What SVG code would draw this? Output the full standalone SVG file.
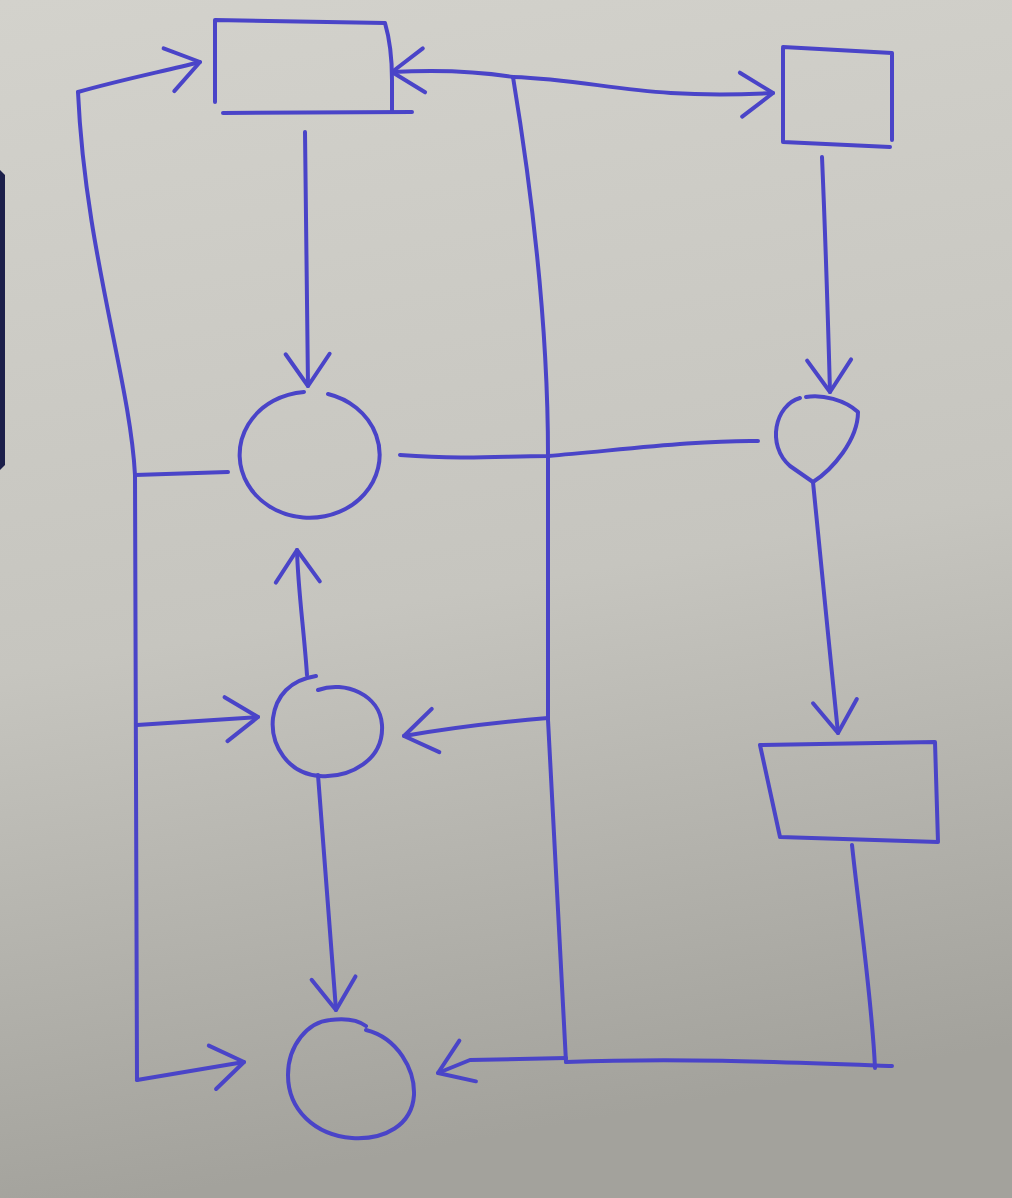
<svg xmlns="http://www.w3.org/2000/svg" width="1012" height="1198" viewBox="0 0 1012 1198">
  <defs>
    <linearGradient id="paper" x1="0" y1="0" x2="0.15" y2="1">
      <stop offset="0" stop-color="#d3d2cc"/>
      <stop offset="0.55" stop-color="#c6c5bf"/>
      <stop offset="1" stop-color="#a3a29c"/>
    </linearGradient>
    <marker id="head" viewBox="-36 -26 40 52" markerWidth="40" markerHeight="52" refX="0" refY="0" markerUnits="userSpaceOnUse" orient="auto">
      <path d="M -32 -22 L 0 0 L -32 22" fill="none" stroke="#4a44c8" stroke-width="4" stroke-linecap="round" stroke-linejoin="round"/>
    </marker>
  </defs>
  <style>
    .ink { fill: none; stroke: #4a44c8; stroke-width: 4; stroke-linecap: round; stroke-linejoin: round; }
    .arrow { marker-end: url(#head); }
  </style>
  <rect x="0" y="0" width="1012" height="1198" fill="url(#paper)"/>
  <path d="M0 170 L5 175 L5 465 L0 470 Z" fill="#1c1f4a"/>

  <g id="connectors">
    <path class="ink arrow" d="M78 92 C 120 80, 160 72, 200 62"/>
    <path class="ink" d="M78 92 C 85 250, 130 380, 135 475 L 137 1080"/>
    <path class="ink arrow" d="M137 1080 L 244 1062"/>
    <path class="ink" d="M135 475 L 228 472"/>
    <path class="ink arrow" d="M137 725 L 258 717"/>
    <path class="ink arrow" d="M305 132 L 308 386"/>
    <path class="ink arrow" d="M513 77 C 470 70, 430 70, 392 72"/>
    <path class="ink arrow" d="M513 77 C 600 80, 640 100, 773 93"/>
    <path class="ink" d="M513 77 C 525 150, 548 300, 548 455 L 548 720 L 566 1062"/>
    <path class="ink" d="M400 455 C 470 460, 500 456, 548 456 C 620 450, 700 440, 758 441"/>
    <path class="ink arrow" d="M548 718 C 500 722, 450 728, 404 736"/>
    <path class="ink arrow" d="M307 675 C 304 630, 298 590, 297 550"/>
    <path class="ink arrow" d="M318 775 L 336 1010"/>
    <path class="ink arrow" d="M822 157 C 826 250, 828 320, 830 392"/>
    <path class="ink arrow" d="M813 482 C 820 560, 830 650, 838 733"/>
    <path class="ink" d="M852 845 C 860 920, 872 1000, 875 1068"/>
    <path class="ink" d="M566 1062 C 680 1058, 780 1062, 892 1066"/>
    <path class="ink arrow" d="M566 1058 L 470 1060 L 438 1073"/>
  </g>

  <g id="rect-top">
    <path class="ink" d="M215 102 L 215 20 L 385 23 C 390 40, 392 60, 392 80 L 392 112"/>
    <path class="ink" d="M223 113 L 412 112"/>
  </g>
  <g id="square-top-right">
    <path class="ink" d="M783 48 L 783 142 L 890 147 M 783 47 L 892 53 L 892 140"/>
  </g>
  <g id="circle-a">
    <path class="ink" d="M328 394 A 70 63 0 1 1 304 392"/>
  </g>
  <g id="circle-b">
    <path class="ink" d="M800 398 C 775 405, 766 445, 790 466 L 813 482 C 832 470, 858 440, 858 412 C 845 400, 822 394, 806 397"/>
  </g>
  <g id="circle-c">
    <path class="ink" d="M318 690 C 345 680, 380 695, 382 725 C 384 760, 350 778, 320 776 C 288 774, 270 745, 273 718 C 276 696, 290 680, 316 676"/>
  </g>
  <g id="rect-lower-right">
    <path class="ink" d="M760 745 L 935 742 L 938 842 M 760 745 L 780 837 L 938 842"/>
  </g>
  <g id="circle-d">
    <path class="ink" d="M366 1030 C 398 1038, 415 1070, 414 1095 C 412 1125, 385 1140, 352 1138 C 315 1135, 288 1110, 288 1075 C 288 1045, 308 1022, 330 1020 C 345 1018, 358 1020, 366 1026"/>
  </g>
</svg>
